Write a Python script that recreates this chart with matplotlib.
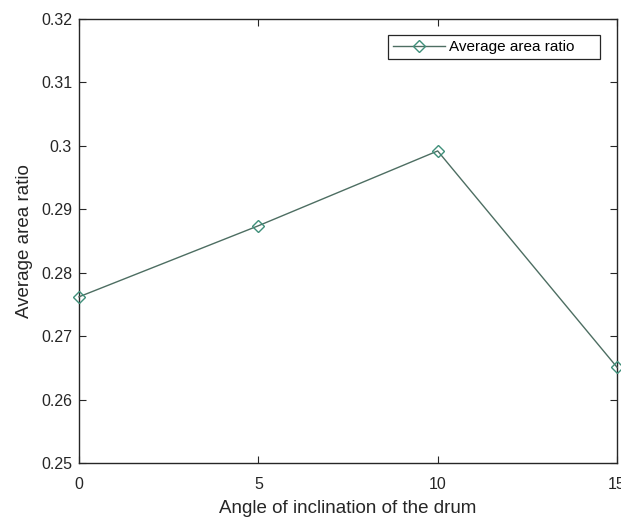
import matplotlib
matplotlib.use("Agg")
import matplotlib.pyplot as plt
from matplotlib.patches import Rectangle

angles = [0, 5, 10, 15]
area_ratio = [0.2762, 0.2874, 0.2992, 0.2651]
series_label = "Average area ratio"
xticks = [0, 5, 10, 15]
yticks = [0.25, 0.26, 0.27, 0.28, 0.29, 0.30, 0.31, 0.32]
ytick_labels = ["0.25", "0.26", "0.27", "0.28", "0.29", "0.3", "0.31", "0.32"]

plt.rcParams['font.family'] = ['Liberation Sans', 'DejaVu Sans']
W, H = 621, 519
fig = plt.figure(figsize=(W / 100, H / 100), dpi=100)
ax = fig.add_axes([79 / W, 56 / H, 538 / W, 444 / H])

ax.plot(angles, area_ratio, color='#4d6e62', linewidth=1.0, marker='D',
        markersize=6, markerfacecolor='none', markeredgecolor='#3f8f7a',
        markeredgewidth=1.0, label=series_label, clip_on=False, zorder=3)

ax.set_xlim(0, 15)
ax.set_ylim(0.25, 0.32)
ax.set_xticks(xticks)
ax.set_xticklabels([str(t) for t in xticks])
ax.set_yticks(yticks)
ax.set_yticklabels(ytick_labels)
ax.tick_params(direction='in', top=True, right=True, length=5, width=0.8,
               labelsize=11.5, colors='#262626')
ax.tick_params(axis='y', pad=5)
ax.tick_params(axis='x', pad=10)
for s in ax.spines.values():
    s.set_color('#262626')
    s.set_linewidth(1.0)

ax.set_xlabel("Angle of inclination of the drum", fontsize=13.5, color='#262626', labelpad=6)
ax.set_ylabel("Average area ratio", fontsize=13.5, color='#262626', labelpad=6)

leg = ax.legend(loc='center left', bbox_to_anchor=(393 / W, 1 - 47 / H),
                bbox_transform=fig.transFigure, fontsize=11, frameon=False,
                handlelength=3.4, handletextpad=0.25, borderpad=0,
                borderaxespad=0)
frame = Rectangle((388 / W, 1 - 59 / H), 212 / W, 24 / H, transform=fig.transFigure,
                  facecolor='white', edgecolor='#262626', linewidth=0.9,
                  zorder=4, clip_on=False)
ax.add_patch(frame)
leg.set_zorder(5)

fig.savefig("out.png", dpi=100)
